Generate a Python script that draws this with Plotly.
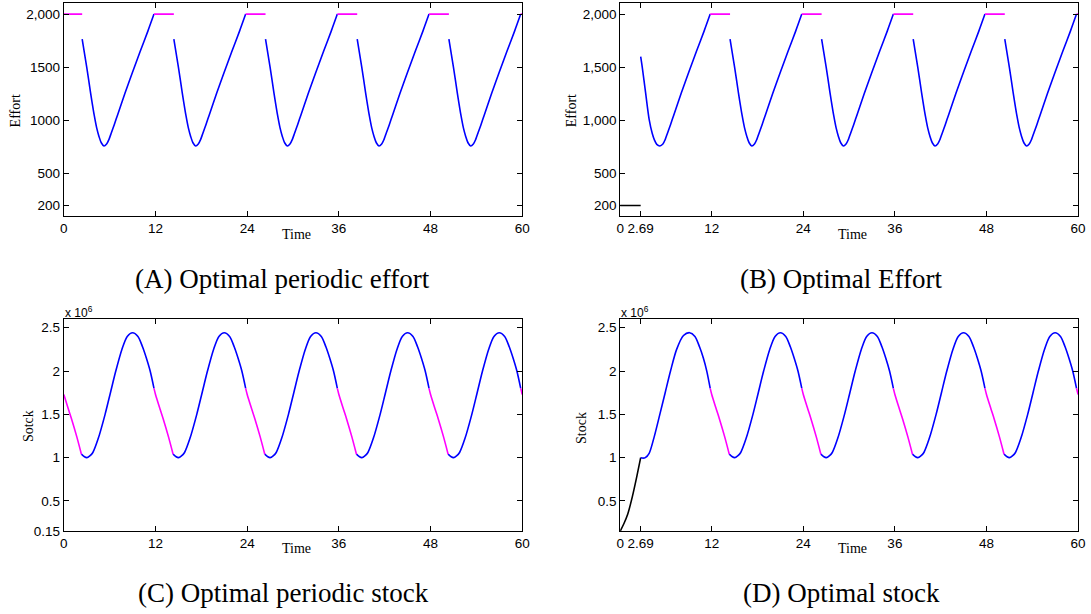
import plotly.graph_objects as go

# ---------------- data ----------------
CYCLE_STARTS = [0, 12, 24, 36, 48, 60]
T_MAX = 60

# Effort: upper bound held (magenta), times relative to each cycle start
EFFORT_MAX = 2000
EFFORT_HOLD_T = [-0.2, 0.0, 2.4]
# Effort: interior (blue) part of one cycle, relative times
EFFORT_BLUE_T = [2.4, 3.0, 3.5, 4.0, 4.3, 4.6, 4.9, 5.25, 5.6, 5.9, 6.2, 6.6, 7.0, 8.0, 9.0, 10.0, 11.0, 11.8]
EFFORT_BLUE_V = [1765, 1500, 1260, 1040, 930, 850, 790, 760, 778, 820, 880, 960, 1045, 1255, 1455, 1650, 1840, 2000]

# Panel B: initial phase
B_INIT_T = [0, 2.69]
B_INIT_V = [200, 200]
B_FIRST_T = [2.69, 2.9, 3.3, 3.8, 4.2, 4.5, 4.8, 5.2, 5.6, 5.9, 6.2, 6.6, 7.0, 8.0, 9.0, 10.0, 11.0, 11.8]
B_FIRST_V = [1600, 1500, 1280, 1010, 880, 815, 775, 760, 778, 820, 880, 960, 1045, 1255, 1455, 1650, 1840, 2000]

# Stock (x 10^6): part of cycle while effort is at max (magenta)
STOCK_HOLD_T = [-0.2, 0.0, 0.6, 1.0, 1.7, 2.3]
STOCK_HOLD_V = [1.80, 1.73, 1.56, 1.45, 1.24, 1.04]
# Stock: interior (blue) part of one cycle
STOCK_BLUE_T = [2.3, 2.7, 3.0, 3.4, 3.8, 4.5, 5.4, 6.1, 6.8, 7.6, 8.3, 9.0, 9.7, 10.3, 10.8, 11.3, 11.8]
STOCK_BLUE_V = [1.04, 1.01, 1.0, 1.02, 1.06, 1.22, 1.5, 1.75, 2.0, 2.25, 2.40, 2.443, 2.40, 2.28, 2.15, 2.0, 1.80]

# Panel D: initial phase
D_INIT_T = [0, 0.5, 1.0, 1.6, 2.2, 2.69]
D_INIT_V = [0.15, 0.24, 0.35, 0.55, 0.79, 1.0]
D_FIRST_T = [2.69, 3.0, 3.3, 3.8, 4.4, 5.2, 5.9, 6.6, 7.4, 8.3, 9.1, 9.8, 10.4, 10.9, 11.35, 11.8]
D_FIRST_V = [1.0, 0.995, 1.0, 1.05, 1.22, 1.5, 1.75, 2.0, 2.25, 2.41, 2.443, 2.40, 2.28, 2.15, 2.0, 1.80]

X_TICKS_PERIODIC = [0, 12, 24, 36, 48, 60]
X_TICKS_FULL = [0, 2.69, 12, 24, 36, 48, 60]
X_TICKTEXT_FULL = ["0", "2.69", "12", "24", "36", "48", "60"]
EFFORT_TICKS = [200, 500, 1000, 1500, 2000]
EFFORT_TICKTEXT_A = ["200", "500", "1000", "1500", "2,000"]
EFFORT_TICKTEXT_B = ["200", "500", "1,000", "1,500", "2,000"]
STOCK_TICKS_C = [0.15, 0.5, 1, 1.5, 2, 2.5]
STOCK_TICKTEXT_C = ["0.15", "0.5", "1", "1.5", "2", "2.5"]
STOCK_TICKS_D = [0.5, 1, 1.5, 2, 2.5]
STOCK_TICKTEXT_D = ["0.5", "1", "1.5", "2", "2.5"]

BLUE = "#0000FF"
MAGENTA = "#FF00FF"
BLACK = "#000000"

# ---------------- helpers ----------------
def tiled(ts, vs, starts):
    xs, ys = [], []
    for s in starts:
        seg = [(s + t, v) for t, v in zip(ts, vs) if 0 <= s + t <= T_MAX + 1e-9]
        if len(seg) < 2:
            continue
        xs += [p[0] for p in seg] + [None]
        ys += [p[1] for p in seg] + [None]
    return xs, ys


def line(xs, ys, color, xa, ya, spline=True):
    return go.Scatter(x=xs, y=ys, mode="lines", xaxis=xa, yaxis=ya,
                      line=dict(color=color, width=1.6,
                                shape="spline" if spline else "linear", smoothing=0.8),
                      connectgaps=False, showlegend=False, hoverinfo="skip")


fig = go.Figure()

# Panel A
hx, hy = tiled(EFFORT_HOLD_T, [EFFORT_MAX] * len(EFFORT_HOLD_T), CYCLE_STARTS)
bx, by = tiled(EFFORT_BLUE_T, EFFORT_BLUE_V, CYCLE_STARTS[:5])
fig.add_trace(line(bx, by, BLUE, "x", "y"))
fig.add_trace(line(hx, hy, MAGENTA, "x", "y", spline=False))

# Panel B
fig.add_trace(line(B_INIT_T, B_INIT_V, BLACK, "x2", "y2", spline=False))
fx, fy = tiled(B_FIRST_T, B_FIRST_V, [0])
fig.add_trace(line(fx, fy, BLUE, "x2", "y2"))
bx, by = tiled(EFFORT_BLUE_T, EFFORT_BLUE_V, CYCLE_STARTS[1:5])
fig.add_trace(line(bx, by, BLUE, "x2", "y2"))
hx, hy = tiled(EFFORT_HOLD_T, [EFFORT_MAX] * len(EFFORT_HOLD_T), CYCLE_STARTS[1:])
fig.add_trace(line(hx, hy, MAGENTA, "x2", "y2", spline=False))

# Panel C
bx, by = tiled(STOCK_BLUE_T, STOCK_BLUE_V, CYCLE_STARTS[:5])
fig.add_trace(line(bx, by, BLUE, "x3", "y3"))
hx, hy = tiled(STOCK_HOLD_T, STOCK_HOLD_V, CYCLE_STARTS)
fig.add_trace(line(hx, hy, MAGENTA, "x3", "y3"))

# Panel D
fig.add_trace(line(D_INIT_T, D_INIT_V, BLACK, "x4", "y4"))
fx, fy = tiled(D_FIRST_T, D_FIRST_V, [0])
fig.add_trace(line(fx, fy, BLUE, "x4", "y4"))
bx, by = tiled(STOCK_BLUE_T, STOCK_BLUE_V, CYCLE_STARTS[1:5])
fig.add_trace(line(bx, by, BLUE, "x4", "y4"))
hx, hy = tiled(STOCK_HOLD_T, STOCK_HOLD_V, CYCLE_STARTS[1:])
fig.add_trace(line(hx, hy, MAGENTA, "x4", "y4"))

# ---------------- layout ----------------
W, H = 1091, 614

def px_x(p):
    return p / W

def px_y(p):
    return 1 - p / H

TICKFONT = dict(family="Liberation Sans, Arial, sans-serif", size=13.5, color="black")

def xaxis(dom, anchor, tickvals, ticktext):
    return dict(domain=dom, anchor=anchor, range=[0, T_MAX], showline=True, linecolor="black",
                linewidth=1, mirror="allticks", ticks="inside", ticklen=5, tickcolor="black",
                tickvals=tickvals, ticktext=ticktext, showgrid=False, zeroline=False,
                tickfont=TICKFONT, fixedrange=True)

def yaxis(dom, anchor, rng, tickvals, ticktext):
    return dict(domain=dom, anchor=anchor, range=rng, showline=True, linecolor="black",
                linewidth=1, mirror="allticks", ticks="inside", ticklen=5, tickcolor="black",
                tickvals=tickvals, ticktext=ticktext, showgrid=False, zeroline=False,
                tickfont=TICKFONT, fixedrange=True)

XL = [px_x(60.5), px_x(524)]
XR = [px_x(623), px_x(1086)]
YT = [px_y(219), px_y(3.5)]
YB = [px_y(538.3), px_y(323.3)]

fig.update_layout(
    width=W, height=H, margin=dict(l=0, r=0, t=0, b=0),
    paper_bgcolor="white", plot_bgcolor="white", showlegend=False,
    xaxis=xaxis(XL, "y", X_TICKS_PERIODIC, [str(v) for v in X_TICKS_PERIODIC]),
    yaxis=yaxis(YT, "x", [100, 2100], EFFORT_TICKS, EFFORT_TICKTEXT_A),
    xaxis2=xaxis(XR, "y2", X_TICKS_FULL, X_TICKTEXT_FULL),
    yaxis2=yaxis(YT, "x2", [100, 2100], EFFORT_TICKS, EFFORT_TICKTEXT_B),
    xaxis3=xaxis(XL, "y3", X_TICKS_PERIODIC, [str(v) for v in X_TICKS_PERIODIC]),
    yaxis3=yaxis(YB, "x3", [0.15, 2.6], STOCK_TICKS_C, STOCK_TICKTEXT_C),
    xaxis4=xaxis(XR, "y4", X_TICKS_FULL, X_TICKTEXT_FULL),
    yaxis4=yaxis(YB, "x4", [0.15, 2.6], STOCK_TICKS_D, STOCK_TICKTEXT_D),
)

LABELFONT = dict(family="Liberation Serif, Times New Roman, serif", size=14, color="black")
CAPFONT = dict(family="Liberation Serif, Times New Roman, serif", size=27, color="black")

ann = []
# x-axis titles
for xr, ypix in [("x", 238), ("x2", 238), ("x3", 556), ("x4", 556)]:
    ann.append(dict(text="Time", x=30.4, xref=xr, y=px_y(ypix), yref="paper",
                    showarrow=False, font=LABELFONT, xanchor="center", yanchor="middle"))
# y-axis titles
for txt, xpix, ypix in [("Effort", 12, 112), ("Effort", 574, 112), ("Sotck", 25, 432), ("Stock", 584, 434)]:
    ann.append(dict(text=txt, x=px_x(xpix), xref="paper", y=px_y(ypix), yref="paper",
                    showarrow=False, font=LABELFONT, textangle=-90, xanchor="center", yanchor="middle"))
# exponent labels
for xpix in [60, 622]:
    ann.append(dict(text="x 10<sup>6</sup>", x=px_x(xpix), xref="paper", y=px_y(316), yref="paper",
                    showarrow=False, xanchor="left", yanchor="middle",
                    font=dict(family="Liberation Sans, Arial, sans-serif", size=12, color="black")))
# captions
for txt, xpix, ypix in [("(A) Optimal periodic effort", 282, 283),
                        ("(B) Optimal Effort", 846, 283),
                        ("(C) Optimal periodic stock", 283, 601),
                        ("(D) Optimal stock", 847, 601)]:
    ann.append(dict(text=txt, x=px_x(xpix), xref="paper",
                    y=px_y(ypix), yref="paper", showarrow=False, font=CAPFONT,
                    xanchor="center", yanchor="middle"))

fig.update_layout(annotations=ann)

POST = """
document.documentElement.style.margin='0';
document.body.style.margin='0';
document.body.style.overflow='hidden';
"""

fig.write_html("out.html", config={"displayModeBar": False}, post_script=POST)
